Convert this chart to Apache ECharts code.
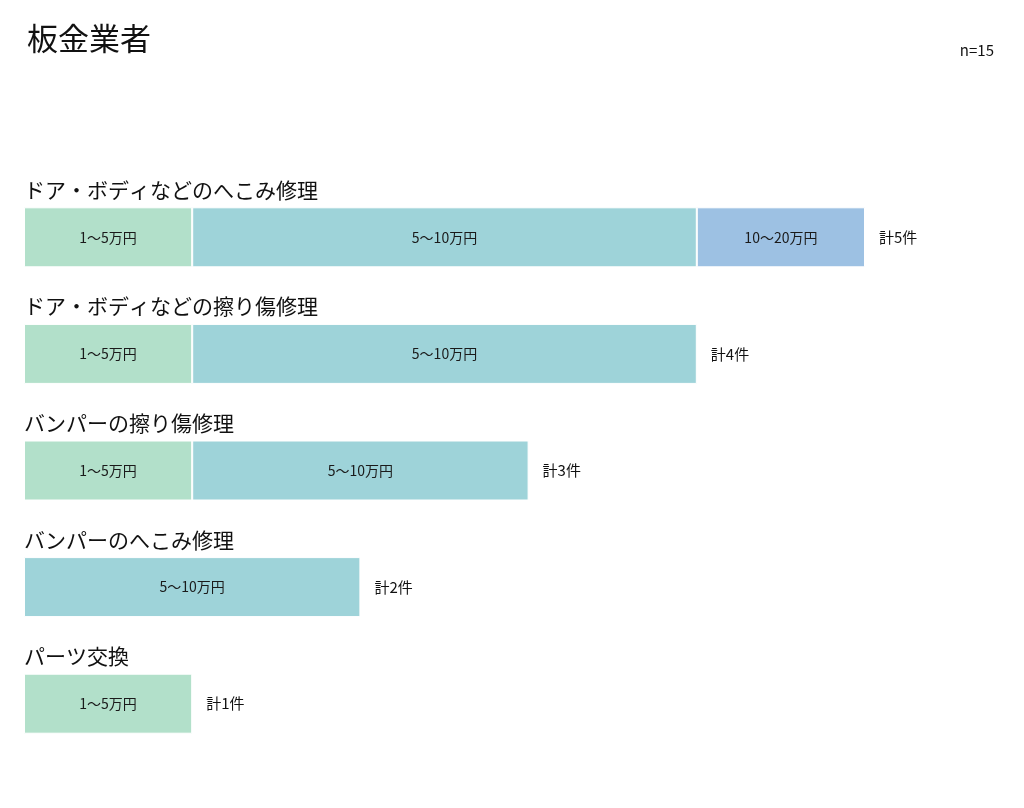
<!DOCTYPE html>
<html>
<head>
<meta charset="utf-8">
<script src="https://cdn.jsdelivr.net/npm/echarts@6/dist/echarts.min.js"></script>
<style>
html, body { margin: 0; padding: 0; background: #fff; }
#main { width: 1024px; height: 808px; }
</style>
</head>
<body>
<div id="main"></div>
<script>
// 修理内容
var categories = ['ドア・ボディなどのへこみ修理', 'ドア・ボディなどの擦り傷修理', 'バンパーの擦り傷修理', 'バンパーのへこみ修理', 'パーツ交換'];
// 価格帯ごとの件数
var priceBands = ['1〜5万円', '5〜10万円', '10〜20万円'];
var low = [1, 1, 1, 0, 1];
var mid = [3, 3, 2, 2, 0];
var high = [1, 0, 0, 0, 0];
var totals = [5, 4, 3, 2, 1];
var colors = ['#b2e0ca', '#9ed3d9', '#9dc1e3'];

var font = '"Noto Sans CJK JP", "Noto Sans", sans-serif';

function noZero(arr) {
    return arr.map(function (v) { return v === 0 ? '-' : v; });
}

function bandSeries(name, data, color) {
    return {
        name: name,
        type: 'bar',
        stack: 'price',
        barWidth: 60,
        data: noZero(data),
        itemStyle: { color: color, borderColor: '#fff', borderWidth: 1 },
        label: {
            show: true,
            position: 'inside',
            formatter: function (p) { return p.value ? name : ''; },
            color: '#1a1a1a',
            fontSize: 14,
            fontFamily: font
        },
        z: 3
    };
}

var myChart = echarts.init(document.getElementById('main'));

var option = {
    animation: false,
    backgroundColor: '#fff',
    textStyle: { fontFamily: font },
    title: [{
        text: '板金業者',
        left: 22,
        top: 18,
        textStyle: { fontSize: 31, fontWeight: 'normal', color: '#111', fontFamily: font }
    }, {
        text: 'n=15',
        right: 25,
        top: 38,
        textStyle: { fontSize: 15, fontWeight: 'normal', color: '#111', fontFamily: font }
    }],
    grid: {
        left: 24,
        right: 159,
        top: 179,
        bottom: 46
    },
    xAxis: {
        type: 'value',
        min: 0,
        max: 5,
        show: false
    },
    yAxis: {
        type: 'category',
        inverse: true,
        data: categories,
        axisLine: { show: false },
        axisTick: { show: false },
        axisLabel: {
            inside: true,
            margin: 0,
            align: 'left',
            verticalAlign: 'bottom',
            padding: [0, 0, 37, 0],
            fontSize: 21,
            color: '#111',
            fontFamily: font
        },
        z: 5
    },
    series: [
        bandSeries(priceBands[0], low, colors[0]),
        bandSeries(priceBands[1], mid, colors[1]),
        bandSeries(priceBands[2], high, colors[2]),
        {
            name: '合計',
            type: 'bar',
            barWidth: 60,
            barGap: '-100%',
            data: totals,
            itemStyle: { color: 'rgba(0,0,0,0)' },
            label: {
                show: true,
                position: 'right',
                distance: 14,
                formatter: function (p) { return '計' + p.value + '件'; },
                color: '#111',
                fontSize: 15,
                fontFamily: font
            },
            z: 1
        }
    ]
};

myChart.setOption(option);
window.onresize = myChart.resize;
</script>
</body>
</html>
